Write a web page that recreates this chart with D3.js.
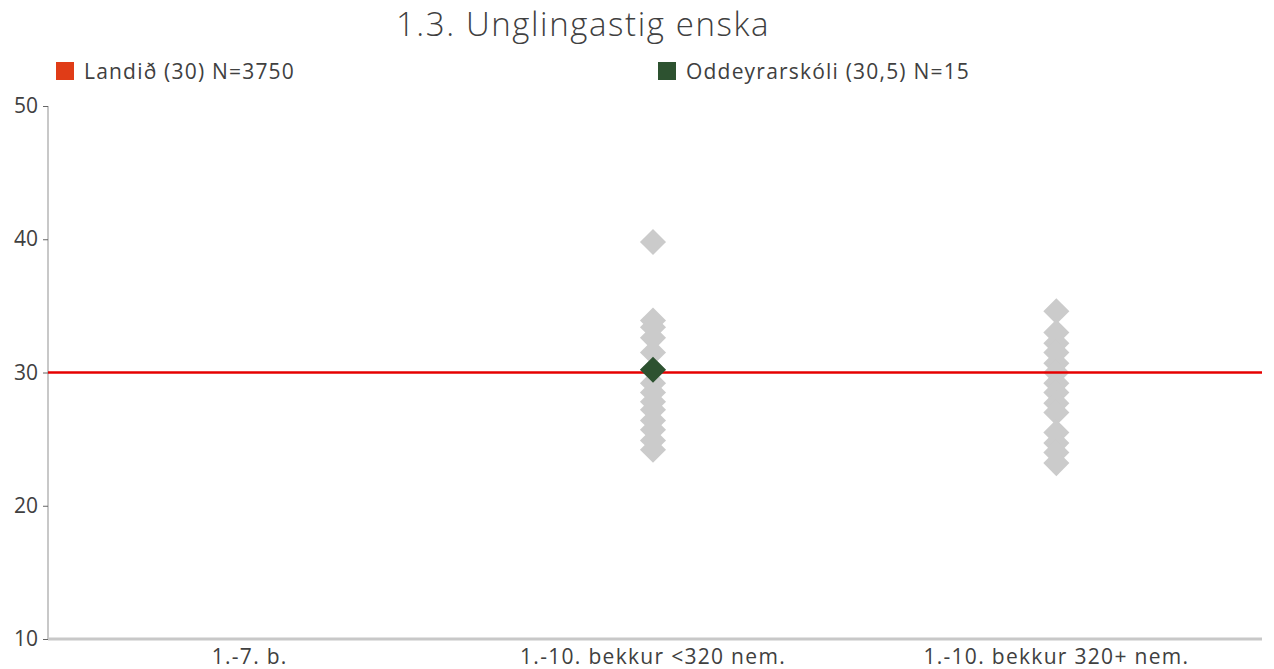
<!DOCTYPE html>
<html lang="is">
  <head>
    <meta charset="utf-8" />
    <title>1.3. Unglingastig enska</title>
    <script src="https://d3js.org/d3.v7.min.js"></script>
    <style>
      body { margin: 0; background: #fff; font-family: "Open Sans", sans-serif; }
      text { fill: #404040; }
    </style>
  </head>
  <body>
    <div id="chart"></div>
    <script>
      // Categories on the x axis
      const categories = ["1.-7. b.", "1.-10. bekkur <320 nem.", "1.-10. bekkur 320+ nem."];
      // Other schools (grey diamonds) per category
      const schoolsSmall = [39.8, 33.9, 33.4, 32.6, 31.5, 30.2, 29.2, 28.5, 27.8, 27.2, 26.4, 25.7, 24.9, 24.2];
      const schoolsLarge = [34.6, 33.0, 32.2, 31.5, 30.7, 30.0, 29.2, 28.5, 27.7, 27.0, 25.5, 24.7, 24.0, 23.2];
      // Highlighted school
      const schoolName = "Oddeyrarskóli (30,5) N=15";
      const schoolCategory = "1.-10. bekkur <320 nem.";
      const schoolValue = 30.2;
      // National average
      const nationalLabel = "Landið (30) N=3750";
      const nationalValue = 30;
      const yTicks = [10, 20, 30, 40, 50];

      const W = 1274, H = 669;
      const margin = { top: 106, right: 12, bottom: 30, left: 48 };
      const width = W - margin.left - margin.right;
      const height = H - margin.top - margin.bottom;

      const svg = d3.select("#chart").append("svg")
        .attr("width", W).attr("height", H);

      // Title
      svg.append("text")
        .attr("x", 583).attr("y", 36)
        .attr("text-anchor", "middle")
        .style("font-size", "33px")
        .style("font-weight", 300)
        .style("letter-spacing", "1.6px")
        .text("1.3. Unglingastig enska");

      // Legend
      const legendItems = [
        { label: nationalLabel, color: "#e03c17", x: 56 },
        { label: schoolName, color: "#2d5230", x: 658 }
      ];
      legendItems.forEach((d) => {
        svg.append("rect").attr("x", d.x).attr("y", 62)
          .attr("width", 18).attr("height", 18).attr("fill", d.color);
        svg.append("text").attr("x", d.x + 28).attr("y", 79)
          .style("font-size", "21px").style("letter-spacing", "1.2px").text(d.label);
      });

      const g = svg.append("g")
        .attr("transform", `translate(${margin.left},${margin.top})`);

      const x = d3.scaleBand().domain(categories).range([0, width - 4]);
      const y = d3.scaleLinear().domain([10, 50]).range([height, 0]);

      // Y axis
      const yAxis = g.append("g")
        .call(d3.axisLeft(y).tickValues(yTicks).tickSize(5).tickPadding(5));
      yAxis.select(".domain").attr("stroke", "#c8c8c8").attr("stroke-width", 2)
        .attr("d", `M0,${height}V0`);
      yAxis.selectAll(".tick line").attr("stroke", "#666");
      yAxis.selectAll(".tick text").style("font-size", "21px").attr("fill", "#404040")
        .attr("font-family", "'Open Sans', sans-serif");

      // X axis
      const xAxis = g.append("g")
        .attr("transform", `translate(0,${height})`)
        .call(d3.axisBottom(x).tickSize(0).tickPadding(6));
      xAxis.select(".domain").attr("stroke", "#c8c8c8").attr("stroke-width", 3)
        .attr("d", `M0,0H${width}`);
      xAxis.selectAll(".tick text").style("font-size", "21px").style("letter-spacing", "1.3px")
        .attr("fill", "#404040")
        .attr("font-family", "'Open Sans', sans-serif").attr("dy", "0.9em");

      // Grey diamonds for other schools
      const diamond = d3.symbol().type(d3.symbolSquare).size(340);
      const others = [];
      schoolsSmall.forEach((v) => others.push({ cat: categories[1], v }));
      schoolsLarge.forEach((v) => others.push({ cat: categories[2], v }));

      g.selectAll("path.other").data(others).enter().append("path")
        .attr("class", "other")
        .attr("d", diamond)
        .attr("fill", "#cbcbcb")
        .attr("transform", (d) => `translate(${x(d.cat) + x.bandwidth() / 2},${y(d.v)}) rotate(45)`);

      // National average line
      g.append("line")
        .attr("x1", 0).attr("x2", width)
        .attr("y1", y(nationalValue)).attr("y2", y(nationalValue))
        .attr("stroke", "#e60000").attr("stroke-width", 2.5);

      // Highlighted school
      g.append("path")
        .attr("d", diamond)
        .attr("fill", "#2d5230")
        .attr("transform", `translate(${x(schoolCategory) + x.bandwidth() / 2},${y(schoolValue)}) rotate(45)`);
    </script>
  </body>
</html>
